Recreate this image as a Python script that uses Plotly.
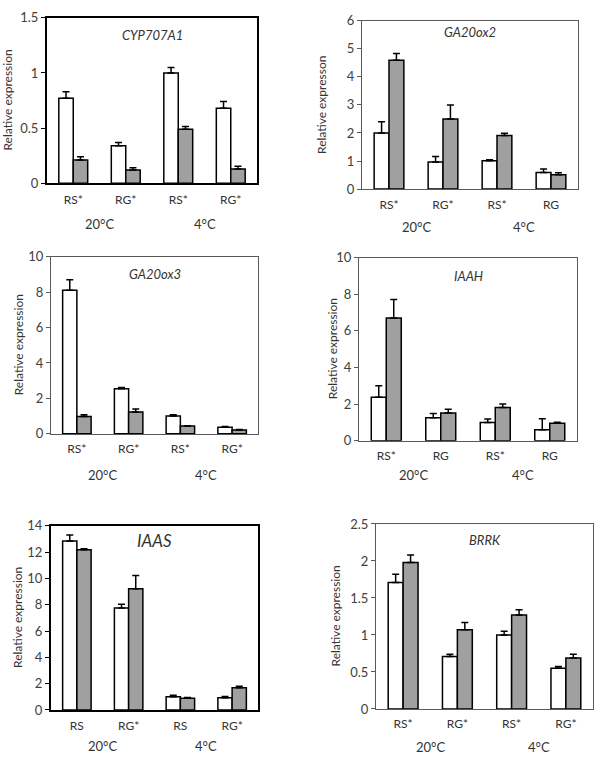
import plotly.graph_objects as go

W, H = 600, 763

# ---------------- data ----------------
genes = ["CYP707A1", "GA20ox2", "GA20ox3", "IAAH", "IAAS", "BRRK"]

cat_cyp = ["RS*", "RG*", "RS*", "RG*"]
cat_ga2 = ["RS*", "RG*", "RS*", "RG"]
cat_ga3 = ["RS*", "RG*", "RS*", "RG*"]
cat_iaah = ["RS*", "RG", "RS*", "RG"]
cat_iaas = ["RS", "RG*", "RS", "RG*"]
cat_brrk = ["RS*", "RG*", "RS*", "RG*"]

white_cyp = [0.77, 0.34, 1.00, 0.68]
white_cyp_err = [0.06, 0.03, 0.05, 0.06]
gray_cyp = [0.21, 0.12, 0.49, 0.13]
gray_cyp_err = [0.03, 0.02, 0.025, 0.025]

white_ga2 = [2.00, 0.97, 1.01, 0.59]
white_ga2_err = [0.40, 0.19, 0.04, 0.13]
gray_ga2 = [4.59, 2.50, 1.91, 0.51]
gray_ga2_err = [0.24, 0.50, 0.08, 0.07]

white_ga3 = [8.10, 2.55, 1.01, 0.37]
white_ga3_err = [0.60, 0.07, 0.07, 0.05]
gray_ga3 = [0.98, 1.24, 0.44, 0.22]
gray_ga3_err = [0.10, 0.16, 0.02, 0.02]

white_iaah = [2.38, 1.26, 0.99, 0.60]
white_iaah_err = [0.62, 0.23, 0.20, 0.60]
gray_iaah = [6.71, 1.51, 1.81, 0.96]
gray_iaah_err = [1.00, 0.21, 0.20, 0.05]

white_iaas = [12.85, 7.75, 1.00, 0.92]
white_iaas_err = [0.45, 0.30, 0.12, 0.10]
gray_iaas = [12.18, 9.22, 0.90, 1.69]
gray_iaas_err = [0.08, 1.00, 0.05, 0.12]

white_brrk = [1.71, 0.71, 1.00, 0.55]
white_brrk_err = [0.11, 0.03, 0.05, 0.025]
gray_brrk = [1.98, 1.07, 1.27, 0.69]
gray_brrk_err = [0.10, 0.10, 0.07, 0.05]

groups = ["20°C", "4°C"]
y_title = ["Relative expression", "Relative expresson", "Relative expression",
           "Relative expression", "Relative expression", "Relative expression"]

panels = [
    dict(cats=cat_cyp, w=white_cyp, we=white_cyp_err, g=gray_cyp, ge=gray_cyp_err,
         rng=[0, 1.5], dtick=0.5),
    dict(cats=cat_ga2, w=white_ga2, we=white_ga2_err, g=gray_ga2, ge=gray_ga2_err,
         rng=[0, 6], dtick=1),
    dict(cats=cat_ga3, w=white_ga3, we=white_ga3_err, g=gray_ga3, ge=gray_ga3_err,
         rng=[0, 10], dtick=2),
    dict(cats=cat_iaah, w=white_iaah, we=white_iaah_err, g=gray_iaah, ge=gray_iaah_err,
         rng=[0, 10], dtick=2),
    dict(cats=cat_iaas, w=white_iaas, we=white_iaas_err, g=gray_iaas, ge=gray_iaas_err,
         rng=[0, 14], dtick=2),
    dict(cats=cat_brrk, w=white_brrk, we=white_brrk_err, g=gray_brrk, ge=gray_brrk_err,
         rng=[0, 2.5], dtick=0.5),
]

# ---------------- layout (pixels) ----------------
geo = [
    dict(x0=47, x1=257, yt=10, yb=179, lw=2, lc="#000000", gy=28, gs=13, tx=8, grp=221),
    dict(x0=362, x1=578, yt=13, yb=185, lw=1, lc="#595959", gy=25, gs=13, tx=322, grp=224),
    dict(x0=51, x1=258, yt=254, yb=435, lw=1, lc="#595959", gy=272, gs=13, tx=18, grp=477),
    dict(x0=359, x1=577, yt=255, yb=442, lw=1, lc="#595959", gy=274, gs=13, tx=332, grp=477),
    dict(x0=51, x1=258, yt=529, yb=717, lw=2, lc="#000000", gy=544, gs=17, tx=18, grp=754),
    dict(x0=376, x1=593, yt=527, yb=716, lw=1, lc="#595959", gy=543, gs=13, tx=335, grp=755),
]

FONT = "Lato"
fig = go.Figure()
annotations = []
layout = dict(width=W, height=H, margin=dict(l=0, r=0, t=0, b=0),
              paper_bgcolor="white", plot_bgcolor="white",
              showlegend=False, barmode="group", bargap=0.45, bargroupgap=0,
              font=dict(family=FONT, color="#404040"))

xpos = [0, 1, 2, 3]

for i, (p, g) in enumerate(zip(panels, geo)):
    n = i + 1
    xa = "x" if n == 1 else f"x{n}"
    ya = "y" if n == 1 else f"y{n}"
    fig.add_trace(go.Bar(x=xpos, y=p["w"], xaxis=xa, yaxis=ya,
                         marker=dict(color="white", line=dict(color="#000000", width=1.5)),
                         error_y=dict(type="data", symmetric=False, array=p["we"],
                                      arrayminus=[0] * 4, color="#000000",
                                      thickness=1.5, width=3.5)))
    fig.add_trace(go.Bar(x=xpos, y=p["g"], xaxis=xa, yaxis=ya,
                         marker=dict(color="#a0a0a0", line=dict(color="#000000", width=1.5)),
                         error_y=dict(type="data", symmetric=False, array=p["ge"],
                                      arrayminus=[0] * 4, color="#000000",
                                      thickness=1.5, width=3.5)))
    xdom = [g["x0"] / W, g["x1"] / W]
    ydom = [1 - g["yb"] / H, 1 - g["yt"] / H]
    layout["xaxis" if n == 1 else f"xaxis{n}"] = dict(
        domain=xdom, anchor=ya, range=[-0.5, 3.5],
        tickmode="array", tickvals=xpos, ticktext=p["cats"],
        ticks="", showgrid=False, zeroline=False,
        showline=True, mirror=True, linecolor=g["lc"], linewidth=g["lw"],
        tickfont=dict(family=FONT, size=12, color="#333333"),
        ticklabelstandoff=4, fixedrange=True)
    layout["yaxis" if n == 1 else f"yaxis{n}"] = dict(
        domain=ydom, anchor=xa, range=p["rng"], dtick=p["dtick"], tick0=0,
        ticks="outside", ticklen=4, tickcolor=g["lc"], tickwidth=1,
        showgrid=False, zeroline=False,
        showline=True, mirror=True, linecolor=g["lc"], linewidth=g["lw"],
        tickfont=dict(family=FONT, size=13, color="#404040"), fixedrange=True)
    # gene name
    annotations.append(dict(text=f"<i>{genes[i]}</i>", xref=f"{xa} domain", x=0.5,
                            yref="paper", y=1 - g["gy"] / H, showarrow=False,
                            xanchor="center", yanchor="middle",
                            font=dict(family=FONT, size=g["gs"], color="#333333")))
    # y title
    annotations.append(dict(text=y_title[i], xref="paper", x=g["tx"] / W, yref="paper",
                            y=1 - (g["yt"] + g["yb"]) / 2 / H, showarrow=False,
                            textangle=-90, xanchor="center", yanchor="middle",
                            font=dict(family=FONT, size=12, color="#333333")))
    # group labels
    for gx, gl in zip([0.5, 2.5], groups):
        annotations.append(dict(text=gl, xref=xa, x=gx, yref="paper",
                                y=1 - g["grp"] / H, showarrow=False,
                                xanchor="center", yanchor="middle",
                                font=dict(family=FONT, size=13, color="#333333")))

layout["annotations"] = annotations
fig.update_layout(**layout)
fig.write_html("out.html", config={"displayModeBar": False},
               post_script="document.body.style.margin='0';document.body.style.padding='0';")
